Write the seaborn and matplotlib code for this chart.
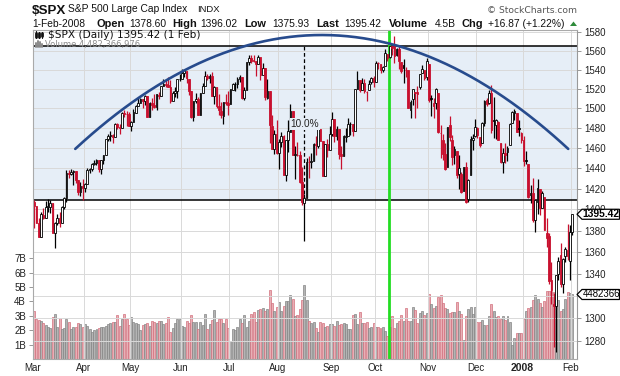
import numpy as np
import pandas as pd
import matplotlib
matplotlib.use("Agg")
import matplotlib.pyplot as plt
import seaborn as sns
from matplotlib.patches import Polygon
from matplotlib.ticker import FixedLocator, NullLocator
from matplotlib.lines import Line2D

sns.set_theme(style="white")
plt.rcParams['font.family'] = ['Liberation Sans', 'DejaVu Sans']

# ---------------- data (S&P 500, daily, Mar-2007 .. 1-Feb-2008) ----------------
prev_close = 1406.82  # close of 28-Feb-2007
holidays = ["2007-04-06", "2007-05-28", "2007-07-04", "2007-09-03",
            "2007-11-22", "2007-12-25", "2008-01-01", "2008-01-21"]

opens = [
    1406.8, 1403.2, 1387.1, 1374.1, 1395.0, 1392.0, 1401.9, 1402.8, 1406.2, 1377.9, 1387.1, 1392.3, 1387.0, 1402.0, 1410.9, 1435.0, 1434.5, 1436.1, 1437.5, 1428.3, 1417.2, 1422.5,
    1420.8, 1424.3, 1437.7, 1439.4, 1443.8, 1444.6, 1448.2, 1438.9, 1447.8, 1452.8, 1468.5, 1471.5, 1472.5, 1470.7, 1484.3, 1480.9, 1480.3, 1495.3, 1494.2, 1494.1,
    1482.4, 1486.1, 1495.6, 1502.3, 1505.6, 1509.4, 1507.3, 1512.3, 1491.5, 1505.8, 1503.1, 1501.2, 1514.0, 1512.7, 1522.8, 1525.1, 1524.1, 1522.1, 1507.5, 1515.6, 1517.6, 1530.2,
    1530.6, 1536.3, 1539.1, 1530.6, 1517.4, 1490.7, 1507.6, 1509.1, 1492.7, 1515.6, 1522.9, 1532.9, 1531.0, 1533.7, 1512.8, 1522.2, 1502.6, 1497.7, 1492.6, 1506.3, 1505.7,
    1504.7, 1519.1, 1524.9, 1524.9, 1530.4, 1531.9, 1510.1, 1518.7, 1547.7, 1552.5, 1549.5, 1549.2, 1546.1, 1553.2, 1534.1, 1541.6, 1511.0, 1518.0, 1482.4, 1458.9, 1473.9,
    1455.2, 1465.5, 1472.2, 1433.0, 1467.6, 1476.2, 1497.2, 1453.1, 1453.4, 1452.9, 1426.2, 1406.6, 1411.3, 1446.0, 1445.6, 1447.0, 1464.0, 1462.3, 1479.4, 1466.7, 1432.0, 1463.7, 1457.6,
    1473.9, 1488.8, 1472.0, 1478.5, 1453.5, 1451.7, 1471.1, 1471.5, 1483.9, 1484.2, 1476.6, 1519.7, 1529.0, 1518.7, 1525.7, 1516.3, 1518.6, 1527.3, 1531.2,
    1527.3, 1547.0, 1545.8, 1539.9, 1543.8, 1556.5, 1553.2, 1564.9, 1564.7, 1555.4, 1562.3, 1547.8, 1544.4, 1539.3, 1540.0, 1497.8, 1509.0, 1516.6, 1516.2, 1522.2, 1536.9, 1539.4, 1532.2,
    1545.8, 1511.0, 1505.6, 1505.3, 1515.5, 1475.3, 1467.6, 1453.7, 1441.4, 1483.4, 1468.0, 1453.1, 1456.7, 1434.5, 1434.7, 1417.6, 1440.7, 1409.6, 1432.9, 1467.4, 1471.8,
    1479.6, 1471.3, 1465.2, 1484.6, 1508.6, 1505.1, 1516.0, 1487.6, 1483.3, 1486.2, 1465.1, 1445.9, 1454.7, 1456.4, 1463.2, 1484.6, 1495.1, 1495.1, 1479.8, 1475.3,
    1468.0, 1447.6, 1444.0, 1414.1, 1415.7, 1390.3, 1406.8, 1419.9, 1401.8, 1411.9, 1377.4, 1374.8, 1333.9, 1312.9, 1310.4, 1340.1, 1357.3, 1330.7, 1355.9, 1362.2, 1352.0,
    1378.60,
]
highs = [
    1409.5, 1403.4, 1391.9, 1397.9, 1401.2, 1407.9, 1410.2, 1409.3, 1406.2, 1388.1, 1395.7, 1397.5, 1403.2, 1411.5, 1437.8, 1437.7, 1438.9, 1437.7, 1437.5, 1428.3, 1426.2, 1429.2,
    1425.5, 1440.6, 1440.2, 1444.9, 1448.1, 1448.7, 1448.4, 1448.0, 1453.1, 1468.6, 1474.4, 1476.6, 1474.2, 1484.7, 1484.7, 1483.8, 1496.6, 1498.0, 1497.3, 1495.7,
    1487.3, 1499.1, 1503.3, 1510.3, 1511.0, 1509.4, 1513.8, 1512.3, 1506.2, 1510.9, 1514.8, 1514.2, 1517.1, 1522.8, 1529.9, 1529.2, 1532.4, 1529.3, 1517.4, 1521.8, 1530.2, 1535.6,
    1540.6, 1540.5, 1539.1, 1530.6, 1517.4, 1507.8, 1515.5, 1511.3, 1515.7, 1526.5, 1538.7, 1535.4, 1535.9, 1537.3, 1522.9, 1522.2, 1514.3, 1506.1, 1506.8, 1514.8, 1517.5,
    1519.4, 1526.0, 1526.6, 1532.4, 1534.3, 1531.9, 1522.2, 1547.9, 1555.1, 1555.9, 1555.3, 1549.2, 1555.2, 1553.2, 1547.2, 1541.6, 1530.1, 1518.0, 1492.9, 1477.9, 1488.3,
    1468.4, 1476.4, 1473.2, 1467.7, 1488.3, 1503.9, 1497.2, 1462.0, 1466.3, 1456.7, 1440.8, 1415.0, 1450.3, 1451.7, 1455.3, 1464.9, 1472.1, 1479.4, 1479.4, 1466.7, 1463.8, 1468.4, 1481.5,
    1496.4, 1488.8, 1481.5, 1478.5, 1462.2, 1472.5, 1479.5, 1489.6, 1485.9, 1484.2, 1519.9, 1538.7, 1529.0, 1530.9, 1530.1, 1518.2, 1529.4, 1532.2, 1533.7,
    1549.0, 1548.0, 1545.8, 1544.0, 1561.9, 1556.5, 1565.3, 1565.4, 1576.1, 1563.0, 1564.7, 1547.8, 1550.7, 1542.8, 1540.0, 1508.1, 1520.0, 1517.2, 1523.2, 1535.5, 1544.7, 1539.4, 1552.8,
    1545.8, 1513.2, 1510.8, 1520.8, 1515.5, 1482.5, 1474.1, 1464.9, 1481.4, 1492.1, 1472.7, 1462.2, 1456.7, 1452.6, 1436.4, 1440.9, 1446.1, 1429.5, 1471.6, 1473.8, 1488.9,
    1481.2, 1471.3, 1486.1, 1508.0, 1510.6, 1518.3, 1523.6, 1511.9, 1489.4, 1486.7, 1465.1, 1460.2, 1464.4, 1461.5, 1485.4, 1497.6, 1498.9, 1495.1, 1488.0, 1475.8,
    1471.8, 1456.8, 1444.0, 1423.9, 1430.3, 1409.2, 1429.1, 1419.9, 1417.9, 1411.9, 1391.9, 1377.7, 1350.3, 1322.1, 1339.1, 1355.2, 1368.6, 1354.0, 1364.9, 1385.9, 1385.6,
    1396.02,
]
lows = [
    1382.0, 1386.9, 1373.9, 1374.1, 1390.6, 1392.0, 1397.3, 1396.7, 1377.7, 1364.0, 1385.2, 1383.6, 1387.0, 1400.7, 1407.6, 1429.9, 1433.2, 1423.3, 1425.5, 1414.1, 1413.3, 1408.9,
    1416.4, 1424.3, 1435.1, 1436.7, 1443.3, 1443.0, 1436.2, 1433.9, 1444.1, 1452.8, 1467.2, 1466.4, 1464.5, 1470.7, 1479.0, 1473.7, 1480.3, 1491.4, 1482.3, 1482.1,
    1476.7, 1486.1, 1495.6, 1501.8, 1505.5, 1500.7, 1503.8, 1491.4, 1491.5, 1498.3, 1500.4, 1498.3, 1509.3, 1512.7, 1522.7, 1522.1, 1521.6, 1505.2, 1507.5, 1512.0, 1510.1, 1528.3,
    1530.6, 1532.3, 1525.6, 1514.1, 1490.4, 1487.4, 1505.2, 1492.9, 1492.7, 1515.6, 1522.9, 1529.3, 1525.7, 1512.4, 1504.8, 1500.7, 1492.7, 1490.5, 1484.2, 1503.4, 1493.6,
    1504.7, 1519.1, 1517.7, 1520.5, 1527.4, 1510.0, 1508.5, 1518.7, 1544.9, 1546.7, 1547.7, 1533.7, 1546.1, 1529.2, 1534.1, 1508.6, 1509.8, 1465.3, 1458.9, 1454.3, 1454.3,
    1439.6, 1460.6, 1432.8, 1427.4, 1455.8, 1476.2, 1453.1, 1429.7, 1451.5, 1425.0, 1404.4, 1370.6, 1411.3, 1430.5, 1439.8, 1447.0, 1453.0, 1460.3, 1466.6, 1432.0, 1432.0, 1451.3, 1457.6,
    1472.2, 1466.3, 1467.4, 1449.1, 1439.3, 1451.7, 1465.8, 1471.5, 1473.2, 1471.8, 1476.6, 1519.7, 1517.0, 1518.7, 1516.1, 1507.1, 1518.6, 1525.4, 1521.9,
    1527.3, 1540.4, 1536.3, 1537.6, 1543.8, 1549.0, 1551.8, 1555.5, 1546.7, 1554.1, 1540.8, 1536.3, 1526.0, 1531.8, 1500.3, 1490.4, 1503.6, 1489.6, 1500.5, 1520.2, 1536.9, 1529.6, 1529.4,
    1506.8, 1492.5, 1489.9, 1499.1, 1475.0, 1450.3, 1448.5, 1438.5, 1441.4, 1466.5, 1443.5, 1443.9, 1430.4, 1419.3, 1415.6, 1417.6, 1406.1, 1407.4, 1432.9, 1458.4, 1470.9,
    1470.1, 1460.7, 1465.2, 1482.2, 1502.7, 1504.8, 1475.0, 1469.6, 1469.2, 1467.8, 1445.4, 1435.7, 1445.3, 1447.5, 1463.2, 1484.6, 1488.1, 1475.9, 1471.7, 1465.1,
    1442.1, 1443.7, 1411.2, 1406.5, 1388.3, 1378.7, 1395.3, 1394.8, 1401.8, 1380.6, 1364.3, 1330.7, 1312.5, 1274.3, 1270.1, 1334.3, 1327.5, 1322.3, 1350.3, 1352.9, 1334.1,
    1375.93,
]
closes = [
    1403.17, 1387.17, 1374.12, 1395.41, 1391.97, 1401.89, 1402.84, 1406.60, 1377.95, 1387.17, 1392.28, 1386.95, 1402.06, 1410.94, 1435.04, 1434.54, 1436.11, 1437.50, 1428.61, 1417.23, 1422.53, 1420.86,
    1424.55, 1437.77, 1439.37, 1443.76, 1444.61, 1448.39, 1438.87, 1447.80, 1452.85, 1468.47, 1471.48, 1472.50, 1470.73, 1484.35, 1480.93, 1480.41, 1495.42, 1494.25, 1494.07, 1482.37,
    1486.30, 1495.92, 1502.39, 1505.62, 1509.48, 1507.72, 1512.58, 1491.47, 1505.85, 1503.15, 1501.19, 1514.14, 1512.75, 1522.75, 1525.10, 1524.12, 1522.28, 1507.51, 1515.73, 1518.11, 1530.23, 1530.62,
    1536.34, 1539.18, 1530.95, 1517.38, 1490.72, 1507.67, 1509.12, 1493.00, 1515.67, 1522.97, 1532.91, 1531.05, 1533.70, 1512.84, 1522.19, 1502.56, 1497.74, 1492.89, 1506.34, 1505.71, 1503.35,
    1519.43, 1524.87, 1525.40, 1530.44, 1531.85, 1510.12, 1518.76, 1547.70, 1552.50, 1549.52, 1549.37, 1546.17, 1553.08, 1534.10, 1541.57, 1511.04, 1518.09, 1482.66, 1458.95, 1473.91, 1455.27,
    1465.81, 1472.20, 1433.06, 1467.67, 1476.71, 1497.49, 1453.09, 1453.64, 1452.92, 1426.54, 1406.70, 1411.27, 1445.94, 1445.55, 1447.12, 1464.07, 1462.50, 1479.37, 1466.79, 1432.36, 1463.76, 1457.64, 1473.99,
    1489.42, 1472.29, 1478.55, 1453.55, 1451.70, 1471.49, 1471.56, 1483.95, 1484.25, 1476.65, 1519.78, 1529.03, 1518.75, 1525.75, 1517.73, 1517.21, 1525.42, 1531.38, 1526.75,
    1547.04, 1546.63, 1539.59, 1542.84, 1557.59, 1552.58, 1565.15, 1562.47, 1554.41, 1561.80, 1548.71, 1538.53, 1541.24, 1540.08, 1500.63, 1506.33, 1519.59, 1515.88, 1514.40, 1535.28, 1540.98, 1531.02, 1549.38,
    1508.44, 1509.65, 1502.17, 1520.27, 1475.62, 1474.77, 1453.70, 1439.18, 1481.05, 1470.58, 1451.15, 1458.74, 1433.27, 1439.70, 1416.77, 1440.70, 1407.22, 1428.23, 1469.02, 1469.72, 1481.14,
    1472.42, 1462.79, 1485.01, 1507.34, 1504.66, 1515.96, 1477.65, 1486.59, 1488.41, 1467.95, 1445.90, 1454.98, 1453.00, 1460.12, 1484.46, 1496.45, 1497.66, 1476.27, 1478.49, 1468.36,
    1447.16, 1447.16, 1411.63, 1416.18, 1390.19, 1409.13, 1420.33, 1401.02, 1416.25, 1380.95, 1373.20, 1333.25, 1325.19, 1310.50, 1338.60, 1352.07, 1330.61, 1353.96, 1362.30, 1355.81, 1378.55,
    1395.42,
]
volumes_b = [
    3.33, 2.75, 2.71, 2.66, 2.48, 2.36, 2.20, 2.17, 2.89, 3.13, 2.20, 2.82, 2.06, 2.17, 2.75, 2.55, 2.06, 2.20, 2.20, 2.48, 2.43, 2.24,
    2.41, 2.31, 2.06, 1.90, 2.01, 2.06, 2.17, 2.24, 2.24, 2.31, 2.41, 2.52, 2.59, 2.59, 3.03, 2.31, 2.80, 3.10, 2.80, 2.36,
    2.89, 2.55, 2.52, 2.43, 2.01, 2.36, 2.43, 2.52, 2.31, 2.61, 2.55, 2.48, 2.63, 2.63, 2.41, 2.48, 2.89, 1.85, 2.13, 2.48, 2.75, 2.75,
    2.32, 2.20, 2.61, 2.52, 3.03, 2.55, 2.55, 2.06, 2.59, 2.34, 3.10, 2.06, 2.43, 2.69, 3.38, 2.59, 2.75, 2.75, 2.48, 2.75, 2.13,
    1.25, 2.06, 2.01, 2.24, 2.80, 2.52, 3.03, 2.24, 2.61, 3.13, 3.24, 2.55, 3.38, 3.50, 3.55, 3.30, 3.45, 4.79, 3.87, 3.31, 3.59,
    3.95, 3.33, 3.65, 4.00, 4.05, 4.44, 4.17, 3.00, 3.06, 3.47, 4.10, 5.14, 4.10, 2.63, 2.52, 2.55, 2.13, 1.85, 2.55, 2.52, 2.20, 2.29, 2.43,
    2.43, 2.29, 2.66, 2.34, 2.43, 2.48, 2.41, 2.06, 2.06, 3.03, 3.13, 2.41, 3.24, 2.52, 2.52, 2.59, 2.18, 2.24, 2.48,
    2.24, 2.24, 2.13, 2.24, 1.95, 1.60, 2.24, 3.00, 2.13, 2.52, 2.61, 3.06, 2.63, 3.54, 2.63, 2.66, 3.63, 3.40, 2.52, 3.17, 3.31, 3.08, 3.22,
    4.50, 3.82, 3.52, 3.70, 4.30, 4.45, 3.90, 3.52, 3.45, 3.22, 3.24, 3.24, 3.94, 3.30, 3.10, 1.30, 3.00, 3.45, 3.59, 3.10, 3.59,
    2.59, 2.59, 2.71, 2.36, 2.36, 3.00, 3.80, 3.33, 2.89, 3.00, 2.75, 3.00, 2.71, 3.00, 2.60, 1.00, 1.44, 1.83, 1.83, 1.83,
    2.75, 3.30, 3.52, 3.60, 4.10, 4.44, 4.20, 3.87, 3.60, 4.00, 4.72, 4.72, 4.72, 4.68, 4.79, 4.10, 3.30, 3.50, 4.20, 4.63, 4.56,
    4.48,
]
last_volume = 4482366976
month_labels = ["Mar", "Apr", "May", "Jun", "Jul", "Aug", "Sep", "Oct", "Nov", "Dec", "2008", "Feb"]
price_ticks = [1280, 1300, 1320, 1340, 1360, 1380, 1400, 1420, 1440, 1460, 1480, 1500, 1520, 1540, 1560, 1580]
price_tick_labels = ["1280", "1300", "", "1340", "1360", "1380", "1400", "1420", "1440", "1460",
                     "1480", "1500", "1520", "1540", "1560", "1580"]   # 1320 is hidden behind the volume tag
volume_ticks = [1, 2, 3, 4, 5, 6, 7]
top_date = "2007-10-09"          # all-time closing high
correction_date = "2007-08-16"   # date of the 10% measure
correction_pct = 10.0
arc_days = [18.3, 124.4, 231.8]
arc_prices = [1459.0, 1576.8, 1459.0]

# ---------------- frame ----------------
dates = pd.bdate_range("2007-03-01", "2008-02-01")
dates = dates[~dates.isin(pd.to_datetime(holidays))]
n = len(dates)
assert n == len(opens) == len(highs) == len(lows) == len(closes) == len(volumes_b)
df = pd.DataFrame({"date": dates, "open": opens, "high": highs, "low": lows,
                   "close": closes, "vol": volumes_b})
df["x"] = np.arange(n) + 0.5
df["prev"] = np.r_[prev_close, df["close"].values[:-1]]
df["down"] = df["close"] < df["prev"]

W, H = 620, 376
fig = plt.figure(figsize=(W / 100, H / 100), dpi=100)
L, R, T, B = 33, 577, 30, 359
rect = [L / W, 1 - B / H, (R - L) / W, (B - T) / H]
axv = fig.add_axes(rect)
ax = fig.add_axes(rect, sharex=axv)
ax.patch.set_alpha(0)
axv.set_facecolor("white")

RED = "#c8102e"
BAND = "#e6eef7"
GRID = "#d9d9d9"

# volume
vol_fill = np.where(df["down"], "#e8b0b6", "#b4b4b4")
vol_edge = np.where(df["down"], "#d2707e", "#858585")
axv.bar(df["x"], df["vol"], width=0.86, color=vol_fill, edgecolor=vol_edge, linewidth=0.5)
axv.set_ylim(0, (B - T) / 14.4)
axv.set_xlim(0, (R - L) / 2.309)
axv.yaxis.set_major_locator(FixedLocator(volume_ticks))
axv.set_yticklabels([f"{v}B" for v in volume_ticks])
axv.tick_params(axis="y", left=True, right=False, labelleft=True, labelright=False,
                length=3, width=0.6, color="#888888", labelsize=7, pad=2, labelcolor="#222222")
axv.tick_params(axis="x", bottom=False, labelbottom=False)
for s in axv.spines.values():
    s.set_visible(False)

# price
ax.set_yscale("log")
ax.set_ylim(1264.3, 1582.2)
ax.yaxis.set_major_locator(FixedLocator(price_ticks))
ax.yaxis.set_minor_locator(NullLocator())
ax.set_yticklabels(price_tick_labels)
ax.yaxis.tick_right()
ax.tick_params(axis="y", length=3, width=0.6, color="#888888", labelsize=7, pad=2, labelcolor="#222222")

month_pos = df.groupby(df["date"].dt.to_period("M"))["x"].min().values - 0.5
ax.xaxis.set_major_locator(FixedLocator(month_pos))
ax.set_xticklabels(month_labels)
ax.tick_params(axis="x", length=0, labelsize=7, pad=3, labelcolor="#222222")
for lab in ax.get_xticklabels():
    if lab.get_text() == "2008":
        lab.set_fontweight("bold")
        lab.set_fontsize(7.5)

ax.grid(True, color=GRID, linewidth=0.7)
ax.set_axisbelow(True)
for k in ["left", "top", "bottom"]:
    ax.spines[k].set_color("#aaaaaa")
    ax.spines[k].set_linewidth(0.8)
ax.spines["right"].set_color("#999999")
ax.spines["right"].set_linestyle((0, (1, 1)))
ax.spines["right"].set_linewidth(0.8)

top_level = df.loc[df["date"] == top_date, "close"].iloc[0]
lower_level = top_level * (1 - correction_pct / 100)
ax.axhspan(lower_level, top_level, color=BAND, zorder=0.2, lw=0)
ax.axhline(top_level, color="black", lw=1.1, zorder=1)
ax.axhline(lower_level, color="black", lw=1.1, zorder=1)

x_top = df.loc[df["date"] == top_date, "x"].iloc[0] - 0.5
ax.axvline(x_top, color="#22dd22", lw=2.0, zorder=1.5)

x_corr = df.loc[df["date"] == correction_date, "x"].iloc[0]
ax.vlines(x_corr, lower_level, top_level, colors="black", linestyles=(0, (3, 2)), lw=0.9, zorder=1.6)

# candles
col = np.where(df["down"], RED, "#000000")
ax.vlines(df["x"], df["low"], df["high"], colors=col, lw=0.9, zorder=2)
body_lo = np.minimum(df["open"], df["close"])
body_h = np.maximum(np.abs(df["close"] - df["open"]), 0.3)
hollow = df["close"] > df["open"]
face = np.where(hollow, "white", col)
ax.bar(df["x"], body_h, bottom=body_lo, width=0.72, color=face, edgecolor=col, linewidth=0.6, zorder=2.2)

ax.text(x_corr + 0.3, 1484, f"{correction_pct:.1f}%", ha="center", va="center", fontsize=7.2, color="#222222",
        zorder=3, bbox=dict(fc=BAND, ec="none", pad=0.6))

# arc annotation
coef = np.polyfit(arc_days, np.log(arc_prices), 2)
ax_x = np.linspace(arc_days[0], arc_days[-1], 300)
sns.lineplot(x=ax_x, y=np.exp(np.polyval(coef, ax_x)), ax=ax, color="#274b8d", lw=1.9, zorder=4)
ax.set_xlim(0, (R - L) / 2.309)
ax.set_ylim(1264.3, 1582.2)
ax.set_xlabel("")
ax.set_ylabel("")

# ---------------- texts ----------------
def ftext(px, py, s, **kw):
    kw.setdefault("va", "baseline")
    return fig.text(px / W, 1 - py / H, s, **kw)

last = df.iloc[-1]
ftext(32, 13.5, "$SPX", fontsize=9.6, fontweight="bold", color="#111111")
ftext(68, 12.5, "S&P 500 Large Cap Index", fontsize=7.4, color="#111111")
ftext(197, 12.5, "INDX", fontsize=6.8, color="#111111")
ftext(487, 13, "\u00a9 StockCharts.com", fontsize=6.6, color="#555555", family=["DejaVu Sans"])

chg = last["close"] - last["prev"]
items = [
    (32, last["date"].strftime("%-d-%b-%Y"), "normal"),
    (96.7, "Open", "bold"), (129, f"{last['open']:.2f}", "normal"),
    (172.7, "High", "bold"), (200, f"{last['high']:.2f}", "normal"),
    (244, "Low", "bold"), (272.7, f"{last['low']:.2f}", "normal"),
    (316.7, "Last", "bold"), (344, f"{last['close']:.2f}", "normal"),
    (389, "Volume", "bold"), (435, f"{last['vol']:.1f}B", "normal"),
    (462, "Chg", "bold"), (488, f"{chg:+.2f} ({chg / last['prev'] * 100:+.2f}%)", "normal"),
]
for px, s, w in items:
    ftext(px, 26.7, s, fontsize=7.9 if w == "bold" else 7.4, fontweight=w, color="#111111")
fig.patches.append(Polygon([[570 / W, 1 - 26 / H], [577 / W, 1 - 26 / H], [573.5 / W, 1 - 21.5 / H]],
                           closed=True, transform=fig.transFigure, fc="#2e8b3a", ec="none"))

# legend inside the plot
ftext(47.5, 38.4, f"$SPX (Daily) {last['close']:.2f} ({last['date'].day} {last['date'].strftime('%b')})",
      fontsize=7.6, color="#111111", family=["DejaVu Sans"], zorder=6)
ftext(45, 47.3, f"Volume {last_volume:,}", fontsize=6.0, color="#8a8a8a", family=["DejaVu Sans"], zorder=6)
for i, (y0, y1, b0, b1) in enumerate([(31, 38, 32.5, 36.5), (32, 38, 33, 37), (31.5, 37.5, 32.5, 35.5)]):
    xx = 36 + i * 3
    fig.add_artist(Line2D([xx / W, xx / W], [1 - y1 / H, 1 - y0 / H], color="#111111", lw=0.8))
    fig.add_artist(Line2D([xx / W, xx / W], [1 - b1 / H, 1 - b0 / H], color="#111111", lw=2.0))
for i, hh in enumerate([4, 6, 5, 3]):
    xx = 35.5 + i * 2.2
    fig.add_artist(Line2D([xx / W, xx / W], [1 - 47 / H, 1 - (47 - hh) / H], color="#8a8a8a", lw=1.4))

# value tags on right
fig.canvas.draw()
def tag(y_disp, s, weight, size):
    py = H - y_disp
    pts = [[577, py], [582, py - 5], [619.5, py - 5], [619.5, py + 5], [582, py + 5]]
    fig.patches.append(Polygon([[a / W, 1 - b / H] for a, b in pts], closed=True,
                               transform=fig.transFigure, fc="white", ec="black", lw=0.9, zorder=7))
    fig.text(582.5 / W, 1 - py / H, s, va="center", ha="left", fontsize=size,
             fontweight=weight, color="black", zorder=8)

tag(ax.transData.transform((0, last["close"]))[1], f"{last['close']:.2f}", "bold", 7.4)
tag(axv.transData.transform((0, last["vol"]))[1], f"{last_volume // 1000}", "normal", 6.9)

fig.savefig("out.png", dpi=100)
